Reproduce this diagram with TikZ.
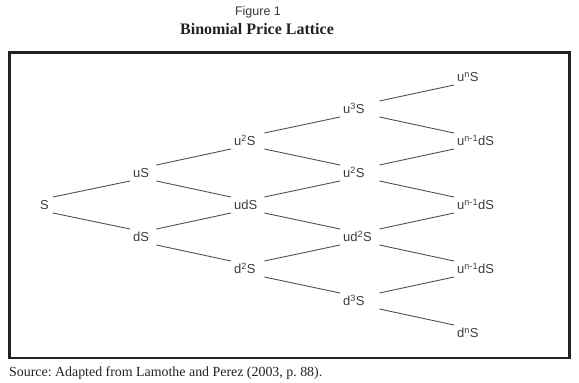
\documentclass[tikz,border=0pt]{standalone}
\usepackage{fontspec}
\setmainfont{Liberation Serif}
\newfontfamily\labelfont{Liberation Sans}
\definecolor{txt}{HTML}{3C3C3C}
\definecolor{edge}{HTML}{505050}
\definecolor{frame}{HTML}{222222}
\frenchspacing
\begin{document}
\begin{tikzpicture}[x=1pt,y=-1pt,
  lab/.style={anchor=west,inner xsep=3pt,inner ysep=0pt,text height=9.3pt,text depth=0pt,
    font=\labelfont\fontsize{13}{13}\selectfont,text=txt,align=left},
  c0/.style={lab,text width=9.5pt},
  c1/.style={lab,text width=20pt},
  c2/.style={lab,text width=27pt},
  c3/.style={lab,text width=33pt},
  c4/.style={lab},
  link/.style={draw=edge,line width=0.9pt},
]
\useasboundingbox (0,0) rectangle (579,383);
\node[font=\labelfont\fontsize{12.5}{12.5}\selectfont,text=txt] (fig) at (258,12) {Figure 1};
\node[font=\bfseries\fontsize{16}{16}\selectfont,text=frame] (title) at (257,29) {Binomial Price Lattice};
\draw[frame,line width=2.5pt] (9.5,52.5) rectangle (569.5,358);
\node[anchor=base west,inner sep=0pt,font=\fontsize{13.9}{13.9}\selectfont,text=frame] (src) at (9,376) {Source: Adapted from Lamothe and Perez (2003, p.~88).};
% column 0
\node[c0] (n00) at (37,205) {S};
% column 1
\node[c1] (n10) at (130,173) {uS};
\node[c1] (n11) at (130,237) {dS};
% column 2
\node[c2] (n20) at (231,141) {u\textsuperscript{2}S};
\node[c2] (n21) at (231,205) {udS};
\node[c2] (n22) at (231,269) {d\textsuperscript{2}S};
% column 3
\node[c3] (n30) at (340,109) {u\textsuperscript{3}S};
\node[c3] (n31) at (340,173) {u\textsuperscript{2}S};
\node[c3] (n32) at (340,237) {ud\textsuperscript{2}S};
\node[c3] (n33) at (340,301) {d\textsuperscript{3}S};
% column 4
\node[c4] (n40) at (454,77) {u\textsuperscript{n}S};
\node[c4] (n41) at (454,141) {u\textsuperscript{n-1}dS};
\node[c4] (n42) at (454,205) {u\textsuperscript{n-1}dS};
\node[c4] (n43) at (454,269) {u\textsuperscript{n-1}dS};
\node[c4] (n44) at (454,333) {d\textsuperscript{n}S};
% connectors
\foreach \a/\b in {n00/n10,n10/n20,n11/n21,n20/n30,n21/n31,n22/n32,n30/n40,n31/n41,n32/n42,n33/n43}
  \draw[link] ([yshift=8pt]\a.east) -- ([yshift=-8pt]\b.west);
\foreach \a/\b in {n00/n11,n10/n21,n11/n22,n20/n31,n21/n32,n22/n33,n30/n41,n31/n42,n32/n43,n33/n44}
  \draw[link] ([yshift=-8pt]\a.east) -- ([yshift=8pt]\b.west);
\end{tikzpicture}
\end{document}
